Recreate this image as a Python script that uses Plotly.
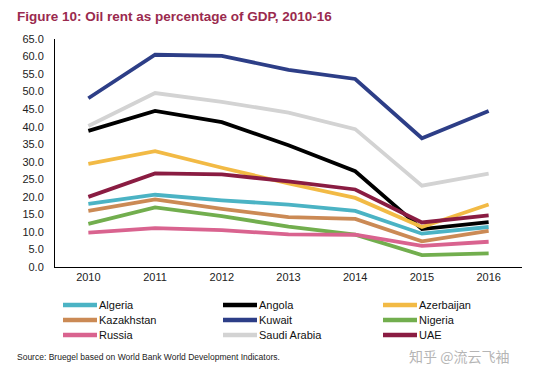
import plotly.graph_objects as go

years = ["2010", "2011", "2012", "2013", "2014", "2015", "2016"]

algeria = [18.0, 20.6, 19.0, 17.8, 16.0, 9.5, 11.4]
angola = [38.8, 44.5, 41.3, 34.7, 27.3, 10.8, 12.8]
azerbaijan = [29.4, 33.0, 28.3, 23.8, 19.7, 11.4, 17.8]
kazakhstan = [16.0, 19.3, 16.6, 14.2, 13.7, 7.3, 10.3]
kuwait = [48.1, 60.5, 60.2, 56.2, 53.6, 36.7, 44.5]
nigeria = [12.3, 17.0, 14.5, 11.5, 9.2, 3.4, 3.9]
russia = [9.8, 11.1, 10.5, 9.3, 9.2, 6.0, 7.2]
saudi_arabia = [40.2, 49.6, 47.1, 44.0, 39.3, 23.2, 26.6]
uae = [20.0, 26.7, 26.4, 24.4, 22.1, 12.7, 14.7]

series = [
    ("Algeria", algeria, "#4BB3C4"),
    ("Angola", angola, "#000000"),
    ("Azerbaijan", azerbaijan, "#F2BA45"),
    ("Kazakhstan", kazakhstan, "#CB8A55"),
    ("Kuwait", kuwait, "#2D3E87"),
    ("Nigeria", nigeria, "#72AE4E"),
    ("Russia", russia, "#D9638F"),
    ("Saudi Arabia", saudi_arabia, "#D3D3D3"),
    ("UAE", uae, "#8A1C42"),
]

y_ticks = [i * 5 for i in range(14)]

W, H = 535, 376
ML, MR, MT, MB = 55, 13, 39, 109
PW, PH = W - ML - MR, H - MT - MB


def px_x(px):
    return (px - ML) / PW


def px_y(py):
    return (H - MB - py) / PH


fig = go.Figure()
for name, vals, color in series:
    fig.add_trace(go.Scatter(
        x=years, y=vals, name=name, mode="lines",
        line=dict(color=color, width=3.8), showlegend=False,
    ))

# custom compact legend (3 columns)
shapes = []
annotations = []
col_x = [63, 223, 383]
row_y = [305, 320, 335]
for i, (name, vals, color) in enumerate(series):
    cx = col_x[i % 3]
    ry = row_y[i // 3]
    shapes.append(dict(type="line", xref="paper", yref="paper",
                       x0=px_x(cx), x1=px_x(cx + 34), y0=px_y(ry), y1=px_y(ry),
                       line=dict(color=color, width=4.5)))
    annotations.append(dict(text=name, xref="paper", yref="paper",
                            x=px_x(cx + 34), y=px_y(ry), xanchor="left", yanchor="middle",
                            showarrow=False, font=dict(size=11, color="#111")))

annotations += [
    dict(text="<b>Figure 10: Oil rent as percentage of GDP, 2010-16</b>",
         xref="paper", yref="paper", x=px_x(15), y=px_y(16), xanchor="left", yanchor="middle",
         showarrow=False, font=dict(size=13.5, color="#9A2A4E",
                                    family="Liberation Sans, Arial, sans-serif")),
    dict(text="Source: Bruegel based on World Bank World Development Indicators.",
         xref="paper", yref="paper", x=px_x(15), y=px_y(357), xanchor="left", yanchor="middle",
         showarrow=False, font=dict(size=8.5, color="#222",
                                    family="Liberation Sans, Arial, sans-serif")),
    dict(text="知乎 @流云飞袖",
         xref="paper", yref="paper", x=px_x(511), y=px_y(356), xanchor="right", yanchor="middle",
         showarrow=False, font=dict(size=14, color="#B5B5B5",
                                    family="Noto Sans CJK SC, sans-serif")),
]

fig.update_layout(
    width=W, height=H,
    margin=dict(l=ML, r=MR, t=MT, b=MB),
    paper_bgcolor="white", plot_bgcolor="white",
    font=dict(family="Liberation Sans, Arial, sans-serif", size=11, color="#222"),
    showlegend=False,
    xaxis=dict(
        type="category", range=[-0.5, 6.5], showline=True, linecolor="#000",
        linewidth=1, ticks="", showgrid=False, tickfont=dict(size=11, color="#222"),
    ),
    yaxis=dict(
        range=[0, 65], tickvals=y_ticks, tickformat=".1f", showline=True,
        linecolor="#000", linewidth=1, ticks="", showgrid=False, zeroline=False,
        tickfont=dict(size=11, color="#222"), ticklabelstandoff=8,
    ),
    shapes=shapes,
    annotations=annotations,
)

fig.write_html("out.html", config={"displayModeBar": False},
               post_script="document.body.style.margin='0';")
